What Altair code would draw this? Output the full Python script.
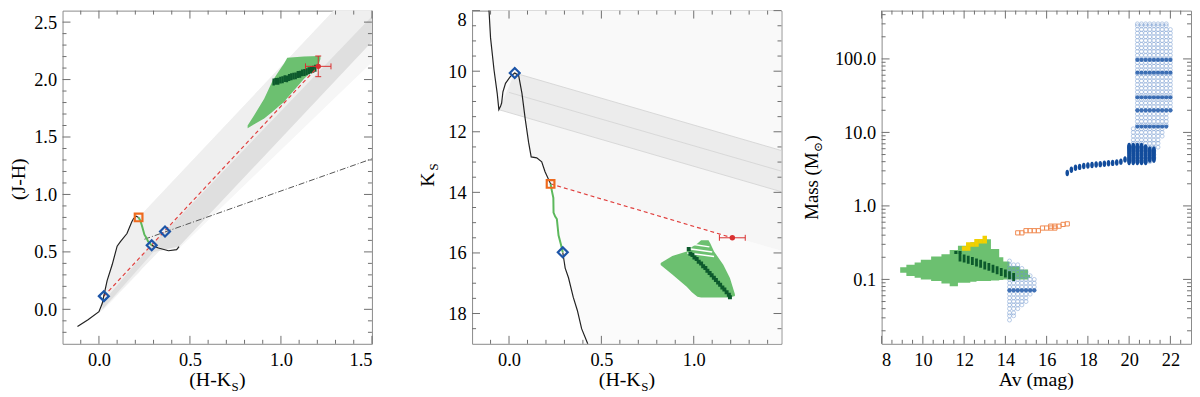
import altair as alt
import pandas as pd

W, H = 312, 336
SERIF = "Liberation Serif, DejaVu Serif"
TICK = "#6e6e6e"
FRAME = "#8a8a8a"
RED = "#d93030"
BLUE = "#1c55a8"
ORANGE = "#ee6a1e"
LGREEN = "#6cc070"
DGREEN = "#0c5a2c"

# ---------------- Panel 1 : (J-H) vs (H-Ks) ----------------
P1_XDOM = [-0.2, 1.5]
P1_YDOM = [-0.3, 2.6]
P1_XMAJ = [0.0, 0.5, 1.0, 1.5]
P1_XMIN = [-0.1, 0.1, 0.2, 0.3, 0.4, 0.6, 0.7, 0.8, 0.9, 1.1, 1.2, 1.3, 1.4]
P1_YMAJ = [0.0, 0.5, 1.0, 1.5, 2.0, 2.5]
P1_YMIN = [-0.2, -0.1, 0.1, 0.2, 0.3, 0.4, 0.6, 0.7, 0.8, 0.9, 1.1, 1.2, 1.3, 1.4,
           1.6, 1.7, 1.8, 1.9, 2.1, 2.2, 2.3, 2.4]

P1_FAINT_X = [-0.118, 0.0, 0.018, 0.027, 0.045, 0.073, 0.1, 0.118, 0.154, 0.19, 0.218, 0.30, 0.44, 1.29, 1.5]
P1_FAINT_HI = [-0.15, -0.02, 0.05, 0.12, 0.25, 0.39, 0.55, 0.59, 0.66, 0.79, 0.80, 0.938, 1.173, 2.6, 2.95]
P1_FAINT_LO = [-0.15, -0.03, -0.01, 0.0, 0.03, 0.075, 0.12, 0.15, 0.21, 0.27, 0.315, 0.50, 0.53, 1.83, 2.15]
P1_U_X = [0.0, 0.018, 0.027, 0.045, 0.073, 0.1, 0.118, 0.154, 0.19, 0.218, 1.29, 1.5]
P1_U_HI = [-0.02, 0.05, 0.12, 0.25, 0.39, 0.55, 0.59, 0.66, 0.79, 0.80, 2.6, 2.95]
P1_U_LO = [-0.03, -0.003, 0.011, 0.04, 0.086, 0.13, 0.16, 0.218, 0.277, 0.322, 2.07, 2.41]
P1_CORE_X = [0.02, 0.30, 0.44, 1.5]
P1_CORE_HI = [0.06, 0.58, 0.80, 2.55]
P1_CORE_LO = [0.0, 0.50, 0.546, 2.33]

P1_ISO_A_X = [-0.118, -0.06, 0.0, 0.018, 0.027, 0.045, 0.073, 0.1, 0.118, 0.154, 0.18, 0.19, 0.205, 0.218]
P1_ISO_A_Y = [-0.15, -0.09, -0.02, 0.05, 0.12, 0.25, 0.39, 0.55, 0.59, 0.66, 0.76, 0.79, 0.81, 0.80]
P1_GRN_X = [0.218, 0.228, 0.236, 0.25, 0.262, 0.27, 0.29]
P1_GRN_Y = [0.80, 0.77, 0.73, 0.65, 0.62, 0.59, 0.557]
P1_ISO_B_X = [0.29, 0.327, 0.382, 0.427, 0.44]
P1_ISO_B_Y = [0.557, 0.534, 0.51, 0.52, 0.546]

P1_DIAM_X = [0.027, 0.29, 0.363]
P1_DIAM_Y = [0.115, 0.557, 0.677]
P1_SQ_X = [0.218]
P1_SQ_Y = [0.80]
P1_STAR = (1.205, 2.115, 0.07, 0.09)          # x, y, x-err, y-err
P1_DASHDOT_X = [0.25, 1.5]
P1_DASHDOT_Y = [0.61, 1.31]

P1_CLOUD_X = [0.817, 0.853, 0.908, 0.954, 0.99, 1.017, 1.035, 1.126, 1.208, 1.217]
P1_CLOUD_HI = [1.60, 1.69, 1.834, 1.99, 2.076, 2.14, 2.19, 2.20, 2.205, 2.205]
P1_CLOUD_LO = [1.577, 1.61, 1.662, 1.72, 1.77, 1.805, 1.84, 2.005, 2.13, 2.18]
P1_DKG_X = [0.960, 0.972, 0.985, 0.997, 1.009, 1.021, 1.033, 1.045, 1.057, 1.069,
            1.081, 1.093, 1.105, 1.117, 1.129, 1.141, 1.153, 1.165, 1.177, 1.189]
P1_DKG_Y = [1.978, 1.984, 1.985, 1.995, 1.998, 2.008, 2.006, 2.018, 2.024, 2.030,
            2.032, 2.044, 2.046, 2.058, 2.062, 2.068, 2.076, 2.084, 2.090, 2.098]

# ---------------- Panel 2 : Ks vs (H-Ks) ----------------
P2_XDOM = [-0.2, 1.475]
P2_YDOM = [8, 19]
P2_XMAJ = [0.0, 0.5, 1.0]
P2_XMIN = [-0.1, 0.1, 0.2, 0.3, 0.4, 0.6, 0.7, 0.8, 0.9, 1.1, 1.2, 1.3, 1.4]
P2_YMAJ = [8, 10, 12, 14, 16, 18]
P2_YMIN = [8.5, 9, 9.5, 10.5, 11, 11.5, 12.5, 13, 13.5, 14.5, 15, 15.5, 16.5, 17, 17.5, 18.5]

P2_A_X = [-0.112, -0.1, -0.081, -0.064, -0.055, 0.03, 1.475]
P2_A_TOP = [8.0, 8.0, 8.0, 8.0, 8.0, 8.0, 8.0]
P2_A_BOT = [7.6, 8.9, 9.97, 10.73, 11.27, 11.42, 13.98]
P2_BAND_X = [-0.055, 0.031, 1.475]
P2_BAND_TOP = [11.27, 10.06, 12.62]
P2_BAND_BOT = [11.27, 11.42, 13.98]
P2_B_X = [0.088, 0.106, 0.12, 0.15, 0.177, 0.195, 0.225, 1.475]
P2_B_TOP = [11.53, 11.56, 11.58, 11.63, 11.68, 11.71, 11.77, 13.98]
P2_B_BOT = [11.59, 12.35, 12.83, 12.86, 12.99, 13.32, 13.72, 15.93]
P2_C_X = [0.225, 0.241, 0.268, 0.291, 0.304, 0.348, 0.393, 0.425, 1.475]
P2_C_TOP = [13.72, 13.75, 13.8, 13.84, 13.86, 13.94, 14.02, 14.07, 15.93]
P2_C_BOT = [13.72, 14.67, 15.42, 15.98, 16.5, 17.47, 18.5, 18.98, 19.0]
P2_BANDLINE_X1 = [-0.055, 0.0, 0.031]
P2_BANDLINE_Y1 = [11.27, 10.7, 10.06]
P2_BANDLINE_X2 = [1.475, 1.475, 1.475]
P2_BANDLINE_Y2 = [13.98, 13.3, 12.62]

P2_ISO_A_X = [-0.112, -0.108, -0.1, -0.081, -0.064, -0.055, -0.046, -0.04, -0.033, -0.019, 0.008,
              0.031, 0.052, 0.07, 0.088, 0.106, 0.12, 0.15, 0.177, 0.195, 0.225]
P2_ISO_A_Y = [7.6, 8.03, 8.9, 9.97, 10.73, 11.27, 11.16, 11.05, 10.68, 10.4, 10.17,
              10.06, 10.14, 10.73, 11.59, 12.35, 12.83, 12.86, 12.99, 13.32, 13.72]
P2_GRN_X = [0.225, 0.232, 0.24, 0.241, 0.25, 0.259, 0.268, 0.28, 0.291]
P2_GRN_Y = [13.72, 13.95, 14.18, 14.67, 14.8, 14.88, 15.42, 15.7, 15.98]
P2_ISO_B_X = [0.291, 0.299, 0.304, 0.322, 0.348, 0.370, 0.393, 0.425, 0.432]
P2_ISO_B_Y = [15.98, 16.3, 16.5, 16.82, 17.47, 17.9, 18.5, 18.98, 19.2]

P2_DIAM_X = [0.031, 0.291]
P2_DIAM_Y = [10.06, 15.98]
P2_SQ_X = [0.225]
P2_SQ_Y = [13.72]
P2_STAR = (1.209, 15.50, 0.07)

P2_CLOUD_X = [0.821, 0.884, 0.962, 0.99, 1.02, 1.04, 1.08, 1.09, 1.11, 1.16, 1.196, 1.223]
P2_CLOUD_TOP = [16.33, 16.1, 15.95, 15.8, 15.69, 15.58, 15.58, 15.69, 15.95, 16.39, 16.83, 17.36]
P2_CLOUD_BOT = [16.4, 16.71, 17.12, 17.3, 17.45, 17.47, 17.47, 17.47, 17.47, 17.47, 17.47, 17.42]
P2_STRIPE_X1 = [1.00, 0.975, 0.965]
P2_STRIPE_Y1 = [15.72, 15.86, 16.0]
P2_STRIPE_X2 = [1.085, 1.10, 1.11]
P2_STRIPE_Y2 = [15.80, 15.97, 16.12]
P2_DKG_X = [0.973, 0.982, 0.993, 1.004, 1.016, 1.027, 1.040, 1.051, 1.063, 1.074, 1.086,
            1.097, 1.109, 1.120, 1.132, 1.143, 1.155, 1.166, 1.178, 1.190, 1.196]
P2_DKG_Y = [15.87, 16.03, 16.07, 16.15, 16.20, 16.29, 16.35, 16.44, 16.50, 16.59, 16.66,
            16.74, 16.82, 16.89, 16.98, 17.05, 17.14, 17.21, 17.30, 17.38, 17.46]

# ---------------- Panel 3 : Mass vs Av ----------------
P3_XDOM = [8, 23]
P3_YDOM = [0.0133, 454]
P3_XMAJ = [8, 10, 12, 14, 16, 18, 20, 22]
P3_XMIN = [8.5, 9, 9.5, 10.5, 11, 11.5, 12.5, 13, 13.5, 14.5, 15, 15.5, 16.5, 17, 17.5,
           18.5, 19, 19.5, 20.5, 21, 21.5, 22.5]
P3_YMAJ = [0.1, 1.0, 10.0, 100.0]
P3_YMIN = [0.02, 0.03, 0.04, 0.05, 0.06, 0.07, 0.08, 0.09, 0.2, 0.3, 0.4, 0.5, 0.6, 0.7, 0.8, 0.9,
           2, 3, 4, 5, 6, 7, 8, 9, 20, 30, 40, 50, 60, 70, 80, 90, 200, 300, 400]

P3_CLOUD_AV = [8.9, 9.2, 9.6, 9.9, 10.4, 10.9, 11.3, 11.7, 12.3, 12.6, 13.3, 13.7, 13.9, 14.2, 14.7, 15.1, 15.2]
P3_CLOUD_HI = [0.146, 0.158, 0.170, 0.185, 0.205, 0.22, 0.251, 0.286, 0.32, 0.352, 0.26, 0.2, 0.175,
               0.151, 0.136, 0.115, 0.115]
P3_CLOUD_LO = [0.123, 0.111, 0.105, 0.1, 0.095, 0.088, 0.081, 0.09, 0.093, 0.095, 0.097, 0.098, 0.1,
               0.1, 0.1, 0.105, 0.105]
P3_DKG_AV = [11.8, 12.0, 12.2, 12.4, 12.6, 12.8, 13.0, 13.2, 13.4, 13.6, 13.8, 14.0, 14.2, 14.4]
P3_DKG_M = [0.198, 0.192, 0.185, 0.178, 0.17, 0.163, 0.155, 0.148, 0.14, 0.133, 0.126, 0.12, 0.114, 0.108]
P3_DKG_SQ_AV = [11.6, 11.8]
P3_DKG_SQ_M = [0.232, 0.232]
P3_YEL_AV = [12.0, 12.2, 12.2, 12.4, 12.6, 12.6, 12.8, 13.0, 13.0]
P3_YEL_M = [0.264, 0.264, 0.299, 0.299, 0.299, 0.331, 0.331, 0.331, 0.366]
P3_ORG_AV = [14.6, 14.8, 15.0, 15.2, 15.4, 15.6, 15.8, 16.0, 16.2, 16.2, 16.4, 16.4, 16.6, 16.8, 17.0]
P3_ORG_M = [0.43, 0.43, 0.46, 0.46, 0.46, 0.46, 0.50, 0.50, 0.50, 0.53, 0.50, 0.53, 0.53, 0.56, 0.57]

MASS_GRID = [0.025, 0.028, 0.032, 0.035, 0.04, 0.045, 0.05, 0.056, 0.063, 0.071, 0.079, 0.089, 0.1,
             0.112, 0.126, 0.141, 0.158, 0.178,
             4.0, 4.5, 5.0, 5.6, 6.3, 7.1, 7.9, 8.9, 10.0, 11.2, 12.6, 14.1, 15.8, 17.8, 20.0, 22.4,
             25.1, 28.2, 31.6, 35.5, 39.8, 44.7, 50.1, 56.2, 63.1, 70.8, 79.4, 89.1, 100.0, 112.0,
             126.0, 141.0, 158.0, 178.0, 200.0, 224.0, 251.0, 282.0, 300.0]
P3_COLH_AV = [20.2, 20.4, 20.6, 20.8, 21.0, 21.2, 21.4, 21.6, 21.8, 22.0]
P3_COLH_LO = [5.0, 4.0, 4.0, 4.0, 4.0, 4.5, 6.3, 9.0, 12.0, 19.0]
P3_COLH_HI = [11.2, 300, 300, 300, 300, 300, 300, 300, 300, 264]
P3_COLL_AV = [14.2, 14.4, 14.6, 14.8, 15.0, 15.2, 15.4]
P3_COLL_LO = [0.026, 0.032, 0.038, 0.042, 0.05, 0.06, 0.07]
P3_COLL_HI = [0.175, 0.17, 0.155, 0.14, 0.13, 0.11, 0.1]
DARK_ROWS_HIGH = [12.0, 20.0, 30.0, 65.0, 97.0]
DARK_ROWS_LOW = [0.071]
P3_BLOB_AV = [20.0, 20.2, 20.4, 20.6, 20.8, 21.0, 21.2]
P3_BLOB_LO = [4.0, 4.0, 4.0, 4.05, 4.1, 4.2, 4.3]
P3_BLOB_HI = [6.5, 6.5, 6.5, 6.5, 6.3, 6.0, 5.8]
BLOB_M = [4.0, 4.3, 4.6, 5.0, 5.4, 5.8, 6.2, 6.5]
P3_TRACK_AV = [17.0, 17.2, 17.4, 17.6, 17.8, 18.0, 18.2, 18.4, 18.6, 18.8, 19.0, 19.2, 19.4, 19.6, 19.8]
P3_TRACK_M = [2.8, 3.1, 3.3, 3.4, 3.5, 3.55, 3.6, 3.65, 3.7, 3.75, 3.8, 3.85, 3.9, 4.0, 4.3]

VCAP = "M0,-1L0,1"
HCAP = "M-1,0L1,0"
VRECT = "M-0.35,-1L0.35,-1L0.35,1L-0.35,1Z"
VELL = "M0,-1C0.75,-1 0.75,1 0,1C-0.75,1 -0.75,-1 0,-1Z"
ONE = pd.DataFrame({"a": [0]})

CUR = {}   # current panel: scales and axes shared by every layer


def mkX(f):
    return alt.X(f, type="quantitative", scale=CUR["xs"], axis=CUR["xa"], title=None)


def mkY(f):
    return alt.Y(f, type="quantitative", scale=CUR["ys"], axis=CUR["ya"], title=None)


def area(x, lo, hi, color, interp="linear", opacity=1.0):
    d = pd.DataFrame({"x": x, "lo": lo, "hi": hi})
    return alt.Chart(d).mark_area(color=color, clip=True, interpolate=interp, opacity=opacity).encode(
        x=mkX("x"), y=mkY("lo"), y2=alt.Y2("hi"))


def line(x, y, color, width=1.2, dash=None):
    d = pd.DataFrame({"x": x, "y": y, "o": list(range(len(x)))})
    kw = dict(color=color, strokeWidth=width, clip=True)
    if dash:
        kw["strokeDash"] = dash
    return alt.Chart(d).mark_line(**kw).encode(x=mkX("x"), y=mkY("y"), order="o:Q")


def segs(x1, y1, x2, y2, color, width=1.0):
    d = pd.DataFrame({"x": x1, "y": y1, "x2": x2, "y2": y2})
    return alt.Chart(d).mark_rule(color=color, strokeWidth=width, clip=True).encode(
        x=mkX("x"), y=mkY("y"), x2=alt.X2("x2"), y2=alt.Y2("y2"))


def pts(x, y, **kw):
    d = pd.DataFrame({"x": x, "y": y})
    return alt.Chart(d).mark_point(clip=True, **kw).encode(x=mkX("x"), y=mkY("y"))


def errpoint(x, y, xe, ye):
    d = pd.DataFrame({"x": [x], "y": [y], "xl": [x - xe], "xh": [x + xe],
                      "yl": [y - ye], "yh": [y + ye]})
    L = [alt.Chart(d).mark_rule(color=RED, strokeWidth=1).encode(
        x=mkX("xl"), x2=alt.X2("xh"), y=mkY("y"))]
    for f in ("xl", "xh"):
        L.append(alt.Chart(d).mark_point(shape=VCAP, size=36, color=RED, strokeWidth=1, opacity=1).encode(
            x=mkX(f), y=mkY("y")))
    if ye > 0:
        L.append(alt.Chart(d).mark_rule(color=RED, strokeWidth=1).encode(
            x=mkX("x"), y=mkY("yl"), y2=alt.Y2("yh")))
        for f in ("yl", "yh"):
            L.append(alt.Chart(d).mark_point(shape=HCAP, size=36, color=RED, strokeWidth=1, opacity=1).encode(
                x=mkX("x"), y=mkY(f)))
    L.append(alt.Chart(d).mark_circle(color=RED, size=30, opacity=1).encode(x=mkX("x"), y=mkY("y")))
    return L


def ticks(xmaj, xmin, ymaj, ymin):
    L = []
    for vals, ln in ((xmaj, 8), (xmin, 4)):
        d = pd.DataFrame({"v": vals})
        L.append(alt.Chart(d).mark_rule(color=TICK, strokeWidth=1).encode(
            x=mkX("v"), y=alt.value(H), y2=alt.value(H - ln)))
        L.append(alt.Chart(d).mark_rule(color=TICK, strokeWidth=1).encode(
            x=mkX("v"), y=alt.value(0), y2=alt.value(ln)))
    for vals, ln in ((ymaj, 8), (ymin, 4)):
        d = pd.DataFrame({"v": vals})
        L.append(alt.Chart(d).mark_rule(color=TICK, strokeWidth=1).encode(
            y=mkY("v"), x=alt.value(0), x2=alt.value(ln)))
        L.append(alt.Chart(d).mark_rule(color=TICK, strokeWidth=1).encode(
            y=mkY("v"), x=alt.value(W), x2=alt.value(W - ln)))
    return L


def txt(s, x, y, size=20, angle=0, align="center", baseline="alphabetic"):
    return alt.Chart(ONE).mark_text(text=s, font=SERIF, fontSize=size, angle=angle, align=align,
                                    baseline=baseline, color="black").encode(
        x=alt.value(x), y=alt.value(y))


def xtitle_sub(main, sub, close):
    c = W / 2
    return [txt(main, c + 14, H + 43, 20, align="right"),
            txt(sub, c + 14.5, H + 48, 13, align="left"),
            txt(close, c + 22, H + 43, 20, align="left")]


def xaxis(vals, fmt):
    return alt.Axis(values=vals, format=fmt, title=None, labelOverlap=False, labelPadding=7)


def yaxis(vals, fmt, **kw):
    return alt.Axis(values=vals, format=fmt, title=None, labelOverlap=False, labelPadding=6, **kw)


# ---------------- build panel 1 ----------------
CUR.update(xs=alt.Scale(domain=P1_XDOM, nice=False, zero=False),
           ys=alt.Scale(domain=P1_YDOM, nice=False, zero=False),
           xa=xaxis(P1_XMAJ, ".1f"), ya=yaxis(P1_YMAJ, ".1f"))
p1_layers = [
    area(P1_FAINT_X, P1_FAINT_LO, P1_FAINT_HI, "#f6f6f6"),
    area(P1_U_X, P1_U_LO, P1_U_HI, "#efefef"),
    area(P1_CORE_X, P1_CORE_LO, P1_CORE_HI, "#dfdfdf"),
    line(P1_DASHDOT_X, P1_DASHDOT_Y, "#555555", 1.0, [6, 2, 1, 2]),
    area(P1_CLOUD_X, P1_CLOUD_LO, P1_CLOUD_HI, LGREEN),
    pts(P1_DKG_X, P1_DKG_Y, shape=VRECT, size=49, filled=True, color=DGREEN, opacity=1),
    line([P1_DIAM_X[0], P1_STAR[0]], [P1_DIAM_Y[0], P1_STAR[1]], "#e0413f", 1.2, [4, 3]),
    line(P1_ISO_A_X, P1_ISO_A_Y, "#222222", 1.2),
    line(P1_ISO_B_X, P1_ISO_B_Y, "#222222", 1.2),
    line(P1_GRN_X, P1_GRN_Y, "#5cb85c", 2.0),
]
p1_layers += errpoint(*P1_STAR)
p1_layers += [
    pts(P1_DIAM_X, P1_DIAM_Y, shape="diamond", filled=False, color=BLUE, size=100, strokeWidth=2.2, opacity=1),
    pts(P1_SQ_X, P1_SQ_Y, shape="square", filled=False, color=ORANGE, size=60, strokeWidth=2.2, opacity=1),
]
p1_layers += ticks(P1_XMAJ, P1_XMIN, P1_YMAJ, P1_YMIN)
p1_layers += [txt("(J-H)", -44, H / 2 + 2, 20, angle=270, baseline="middle")]
p1_layers += xtitle_sub("(H-K", "S", ")")
panel1 = alt.layer(*p1_layers).properties(width=W, height=H)

# ---------------- build panel 2 ----------------
CUR.update(xs=alt.Scale(domain=P2_XDOM, nice=False, zero=False),
           ys=alt.Scale(domain=P2_YDOM, nice=False, zero=False, reverse=True),
           xa=xaxis(P2_XMAJ, ".1f"),
           ya=yaxis(P2_YMAJ, "d",
                    labelBaseline={"condition": {"test": "datum.value == 8", "value": "top"},
                                   "value": "middle"}))
p2_layers = [
    area(P2_A_X, P2_A_BOT, P2_A_TOP, "#f9f9f9"),
    area(P2_C_X, P2_C_TOP, P2_C_BOT, "#fbfbfb"),
    area(P2_B_X, P2_B_TOP, P2_B_BOT, "#f6f6f6"),
    area(P2_BAND_X, P2_BAND_TOP, P2_BAND_BOT, "#ececec"),
    segs(P2_BANDLINE_X1, P2_BANDLINE_Y1, P2_BANDLINE_X2, P2_BANDLINE_Y2, "#d8d8d8", 1.0),
    area(P2_CLOUD_X, P2_CLOUD_TOP, P2_CLOUD_BOT, LGREEN),
    segs(P2_STRIPE_X1, P2_STRIPE_Y1, P2_STRIPE_X2, P2_STRIPE_Y2, "#ffffff", 1.5),
    pts(P2_DKG_X, P2_DKG_Y, shape="square", size=16, filled=True, color=DGREEN, opacity=1),
    line([P2_SQ_X[0], P2_STAR[0]], [P2_SQ_Y[0], P2_STAR[1]], "#e0413f", 1.2, [4, 3]),
    line(P2_ISO_A_X, P2_ISO_A_Y, "#222222", 1.2),
    line(P2_ISO_B_X, P2_ISO_B_Y, "#222222", 1.2),
    line(P2_GRN_X, P2_GRN_Y, "#5cb85c", 2.0),
]
p2_layers += errpoint(P2_STAR[0], P2_STAR[1], P2_STAR[2], 0)
p2_layers += [
    pts(P2_DIAM_X, P2_DIAM_Y, shape="diamond", filled=False, color=BLUE, size=100, strokeWidth=2.2, opacity=1),
    pts(P2_SQ_X, P2_SQ_Y, shape="square", filled=False, color=ORANGE, size=60, strokeWidth=2.2, opacity=1),
]
p2_layers += ticks(P2_XMAJ, P2_XMIN, P2_YMAJ, P2_YMIN)
p2_layers += [txt("K", -44, H / 2 + 2.5, 20, angle=270, baseline="middle"),
              txt("S", -38.5, H / 2 - 10.5, 13, angle=270, baseline="middle")]
p2_layers += xtitle_sub("(H-K", "S", ")")
panel2 = alt.layer(*p2_layers).properties(width=W, height=H)

# ---------------- build panel 3 ----------------
CUR.update(xs=alt.Scale(domain=P3_XDOM, nice=False, zero=False),
           ys=alt.Scale(type="log", domain=P3_YDOM, nice=False),
           xa=xaxis(P3_XMAJ, "d"), ya=yaxis(P3_YMAJ, ".1f"))


def grid_points(avs, los, his, masses):
    ax, am = [], []
    for av, lo, hi in zip(avs, los, his):
        for m in masses:
            if lo * 0.97 <= m <= hi * 1.03:
                ax.append(av)
                am.append(m)
    return ax, am


hx, hm = grid_points(P3_COLH_AV, P3_COLH_LO, P3_COLH_HI, MASS_GRID)
lx, lm = grid_points(P3_COLL_AV, P3_COLL_LO, P3_COLL_HI, MASS_GRID)
drx, drm = grid_points(P3_COLH_AV[1:], P3_COLH_LO[1:], P3_COLH_HI[1:], DARK_ROWS_HIGH)
dlx, dlm = grid_points(P3_COLL_AV, P3_COLL_LO, P3_COLL_HI, DARK_ROWS_LOW)
bx, bm = grid_points(P3_BLOB_AV, P3_BLOB_LO, P3_BLOB_HI, BLOB_M)

p3_layers = [
    area(P3_CLOUD_AV, P3_CLOUD_LO, P3_CLOUD_HI, LGREEN, interp="step-after"),
    pts(hx + lx, hm + lm, shape="circle", filled=False, size=16, strokeWidth=0.9,
        color="#6f97cf", opacity=0.55),
    pts(drx + dlx, drm + dlm, shape="circle", filled=True, size=18, color="#2b62ad", opacity=0.9),
    pts(bx, bm, shape=VELL, filled=True, size=49, color="#124c9c", opacity=1),
    pts(P3_TRACK_AV, P3_TRACK_M, shape=VELL, filled=True, size=42, color="#124c9c", opacity=1),
    pts(P3_DKG_AV, P3_DKG_M, shape=VRECT, filled=True, size=64, color=DGREEN, opacity=1),
    pts(P3_DKG_SQ_AV, P3_DKG_SQ_M, shape="square", filled=True, size=10, color=DGREEN, opacity=1),
    pts(P3_YEL_AV, P3_YEL_M, shape="square", filled=True, size=20, color="#f2d000", opacity=1),
    pts(P3_ORG_AV, P3_ORG_M, shape="square", filled=False, size=18, strokeWidth=1,
        color="#f08a50", opacity=1),
]
p3_layers += ticks(P3_XMAJ, P3_XMIN, P3_YMAJ, P3_YMIN)
p3_layers += [
    txt("Mass (M", -70, H / 2 + 43, 19, angle=270, align="left", baseline="middle"),
    txt("\u2299", -64, H / 2 - 25.5, 12, angle=270, align="left", baseline="middle"),
    txt(")", -70, H / 2 - 36, 19, angle=270, align="left", baseline="middle"),
    txt("Av (mag)", W / 2, H + 43, 20),
]
panel3 = alt.layer(*p3_layers).properties(width=W, height=H)

chart = alt.hconcat(panel1, panel2, panel3, spacing=101, bounds="flush").properties(
    padding=0
).configure_view(
    stroke=FRAME, strokeWidth=1
).configure_axis(
    labelFont=SERIF, labelFontSize=18.5, labelColor="black", ticks=False, tickSize=0,
    domain=False, grid=False
)

chart.save("out.html", embed_options={"renderer": "svg", "actions": False})
